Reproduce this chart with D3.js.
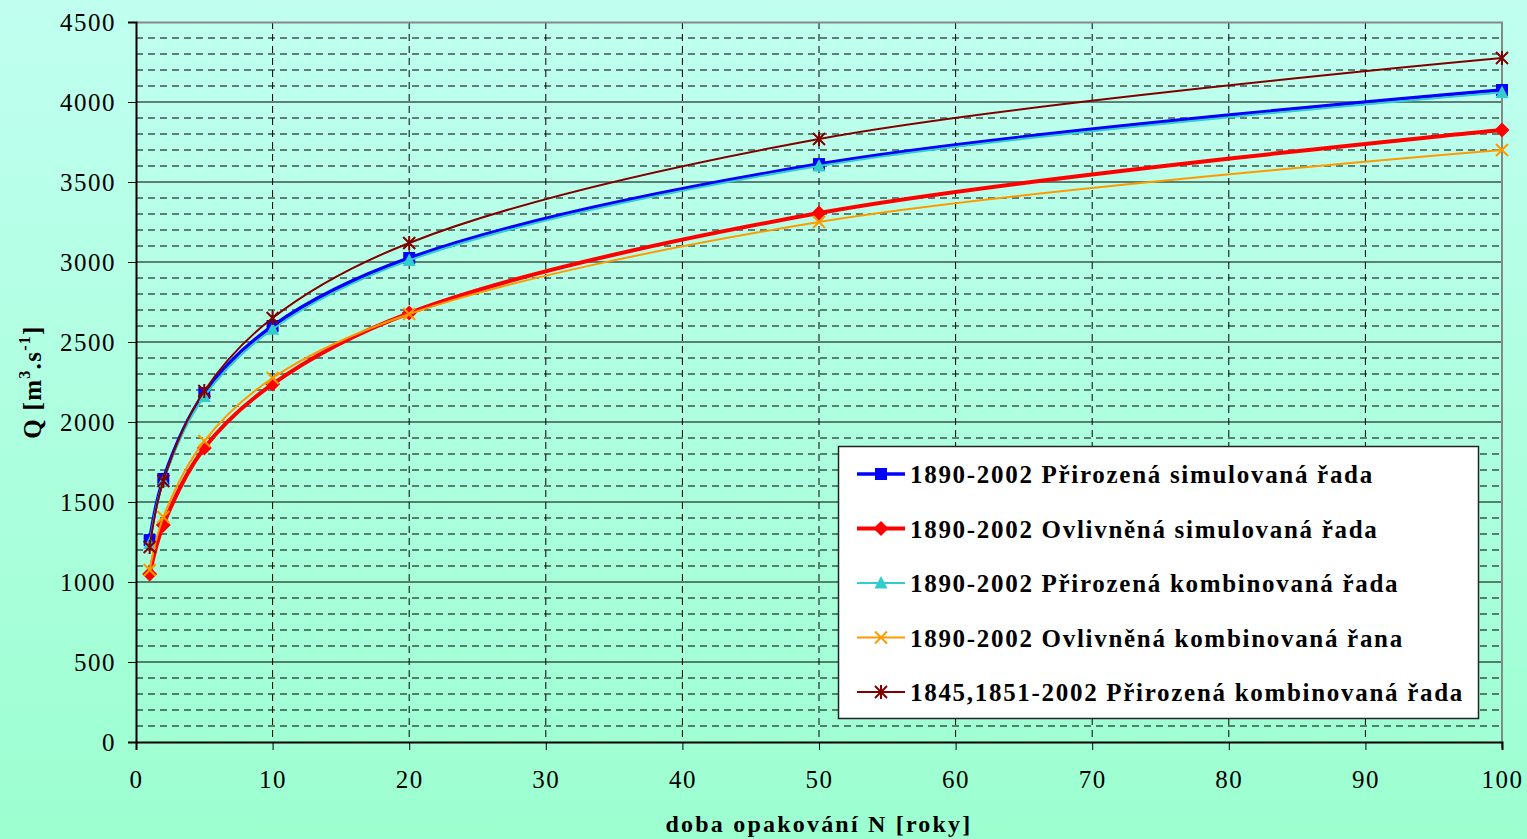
<!DOCTYPE html>
<html>
<head>
<meta charset="utf-8">
<script src="https://cdn.jsdelivr.net/npm/d3@7"></script>
<style>
  body { margin: 0; padding: 0; overflow: hidden; }
  svg { display: block; font-family: "Liberation Serif", "Times New Roman", serif; }
</style>
</head>
<body>
<div id="chart"></div>
<script>
// return periods N [years]
const periods = [1, 2, 5, 10, 20, 50, 100] ;

const prirozenaSim  = [1262, 1644, 2181, 2600, 3025, 3612, 4075] ;
const ovlivnenaSim  = [1050, 1356, 1837, 2237, 2681, 3306, 3825] ;
const prirozenaKomb = [1240, 1630, 2160, 2580, 3010, 3600, 4060] ;
const ovlivnenaKomb = [1075, 1406, 1881, 2275, 2675, 3250, 3700] ;
const prirozena1845 = [1219, 1631, 2194, 2650, 3119, 3769, 4275] ;

const xTicks = [0, 10, 20, 30, 40, 50, 60, 70, 80, 90, 100] ;
const yTicks = [0, 500, 1000, 1500, 2000, 2500, 3000, 3500, 4000, 4500] ;

const seriesList = [
  {name: "1890-2002 Přirozená simulovaná řada",       values: prirozenaSim,  color: "#0000ff", width: 3.5, marker: "square"},
  {name: "1890-2002 Ovlivněná simulovaná řada",       values: ovlivnenaSim,  color: "#ff0000", width: 4,   marker: "diamond"},
  {name: "1890-2002 Přirozená kombinovaná řada",      values: prirozenaKomb, color: "#33cccc", width: 2,   marker: "triangle"},
  {name: "1890-2002 Ovlivněná kombinovaná řana",      values: ovlivnenaKomb, color: "#ff9900", width: 2,   marker: "cross"},
  {name: "1845,1851-2002 Přirozená kombinovaná řada", values: prirozena1845, color: "#800000", width: 2,   marker: "asterisk"}
] ;

let dimensions = {
  width: 1527,
  height: 839,
  margin: {top: 22, right: 25, bottom: 97, left: 136}
}
dimensions.boundedWidth = dimensions.width - dimensions.margin.left - dimensions.margin.right
dimensions.boundedHeight = dimensions.height - dimensions.margin.top - dimensions.margin.bottom

const svg = d3.select("#chart").append("svg")
    .attr("width", dimensions.width)
    .attr("height", dimensions.height) ;

const defs = svg.append("defs") ;
const grad = defs.append("linearGradient")
    .attr("id", "bg").attr("x1", 0).attr("y1", 0).attr("x2", 0).attr("y2", 1) ;
grad.append("stop").attr("offset", "0%").attr("stop-color", "#c0fff0") ;
grad.append("stop").attr("offset", "100%").attr("stop-color", "#9cffd0") ;

svg.append("rect")
    .attr("width", dimensions.width).attr("height", dimensions.height)
    .attr("fill", "url(#bg)") ;

const bounds = svg.append("g")
    .attr("transform", `translate(${dimensions.margin.left},${dimensions.margin.top})`) ;

const xScale = d3.scaleLinear()
  .domain([0, 100])
  .range([0, dimensions.boundedWidth]) ;

const yScale = d3.scaleLinear()
  .domain([0, 4500])
  .range([dimensions.boundedHeight, 0]) ;

// minor dashed horizontal grid every 100
const minorY = d3.range(100, 4500, 100).filter(v => v % 500 != 0) ;
bounds.append("g").selectAll("line")
  .data(minorY)
  .enter().append("line")
    .attr("x1", 0).attr("x2", dimensions.boundedWidth)
    .attr("y1", d => yScale(d)).attr("y2", d => yScale(d))
    .attr("stroke", "#000").attr("stroke-width", 1)
    .attr("stroke-dasharray", "7,5") ;

// dashed vertical grid
bounds.append("g").selectAll("line")
  .data(xTicks.filter(v => v > 0 && v < 100))
  .enter().append("line")
    .attr("x1", d => xScale(d)).attr("x2", d => xScale(d))
    .attr("y1", 0).attr("y2", dimensions.boundedHeight)
    .attr("stroke", "#000").attr("stroke-width", 1)
    .attr("stroke-dasharray", "7,5") ;

// solid major horizontal grid
bounds.append("g").selectAll("line")
  .data(yTicks.filter(v => v > 0 && v < 4500))
  .enter().append("line")
    .attr("x1", 0).attr("x2", dimensions.boundedWidth)
    .attr("y1", d => yScale(d)).attr("y2", d => yScale(d))
    .attr("stroke", "#000").attr("stroke-width", 1) ;

// top and right border (grey)
bounds.append("path")
    .attr("d", `M0,0.5H${dimensions.boundedWidth}V${dimensions.boundedHeight + 6}`)
    .attr("fill", "none").attr("stroke", "#888").attr("stroke-width", 2) ;

// axes
const xAxisGenerator = d3.axisBottom(xScale)
    .tickValues(xTicks)
    .tickSize(8)
    .tickPadding(20)
    .tickFormat(d3.format("d")) ;
const xAxis = bounds.append("g")
    .attr("transform", `translate(0,${dimensions.boundedHeight})`)
    .call(xAxisGenerator) ;

const yAxisGenerator = d3.axisLeft(yScale)
    .tickValues(yTicks)
    .tickSize(8)
    .tickPadding(12)
    .tickFormat(d3.format("d")) ;
const yAxis = bounds.append("g").call(yAxisGenerator) ;

[xAxis, yAxis].forEach(ax => {
  ax.select(".domain").attr("stroke", "#000").attr("stroke-width", 2) ;
  ax.selectAll(".tick line").attr("stroke", "#000").attr("stroke-width", 1) ;
  ax.selectAll(".tick text")
    .attr("font-family", "Liberation Serif, serif")
    .attr("font-size", 25)
    .attr("letter-spacing", 1.5)
    .attr("fill", "#000") ;
}) ;
yAxis.selectAll(".tick text").attr("dy", "0.35em") ;

// axis titles
svg.append("text")
    .attr("x", dimensions.margin.left + dimensions.boundedWidth / 2)
    .attr("y", 832)
    .attr("text-anchor", "middle")
    .attr("font-size", 24).attr("font-weight", "bold")
    .attr("letter-spacing", 2.2)
    .text("doba opakování N [roky]") ;

const yTitle = svg.append("text")
    .attr("transform", `translate(41,${dimensions.margin.top + dimensions.boundedHeight / 2}) rotate(-90)`)
    .attr("text-anchor", "middle")
    .attr("font-size", 25).attr("font-weight", "bold")
    .attr("letter-spacing", 1.3) ;
yTitle.append("tspan").text("Q [m") ;
yTitle.append("tspan").attr("font-size", 16).attr("dy", -11).text("3") ;
yTitle.append("tspan").attr("dy", 11).text(".s") ;
yTitle.append("tspan").attr("font-size", 16).attr("dy", -11).text("-1") ;
yTitle.append("tspan").attr("dy", 11).text("]") ;

// markers
function drawMarker(g, type, color, cx, cy) {
  if (type == "square") {
    g.append("rect").attr("x", cx - 6).attr("y", cy - 6).attr("width", 12).attr("height", 12).attr("fill", color) ;
  } else if (type == "diamond") {
    g.append("path").attr("d", `M${cx},${cy - 7.5}L${cx + 7.5},${cy}L${cx},${cy + 7.5}L${cx - 7.5},${cy}Z`).attr("fill", color) ;
  } else if (type == "triangle") {
    g.append("path").attr("d", `M${cx},${cy - 7}L${cx + 6.5},${cy + 5.5}L${cx - 6.5},${cy + 5.5}Z`).attr("fill", color) ;
  } else if (type == "cross") {
    g.append("path").attr("d", `M${cx - 6},${cy - 6}L${cx + 6},${cy + 6}M${cx + 6},${cy - 6}L${cx - 6},${cy + 6}`)
      .attr("stroke", color).attr("stroke-width", 2).attr("fill", "none") ;
  } else if (type == "asterisk") {
    g.append("path").attr("d", `M${cx - 6},${cy - 6}L${cx + 6},${cy + 6}M${cx + 6},${cy - 6}L${cx - 6},${cy + 6}M${cx},${cy - 7}L${cx},${cy + 7}`)
      .attr("stroke", color).attr("stroke-width", 2).attr("fill", "none") ;
  }
}

const line = d3.line()
    .x(d => xScale(d[0]))
    .y(d => yScale(d[1]))
    .curve(d3.curveCatmullRom.alpha(0.5)) ;

seriesList.forEach(s => {
  const pts = periods.map((p, i) => [p, s.values[i]]) ;
  const g = bounds.append("g") ;
  g.append("path")
    .attr("d", line(pts))
    .attr("fill", "none")
    .attr("stroke", s.color)
    .attr("stroke-width", s.width) ;
  pts.forEach(p => drawMarker(g, s.marker, s.color, xScale(p[0]), yScale(p[1]))) ;
}) ;

// legend
const legend = svg.append("g").attr("transform", "translate(838,446)") ;
legend.append("rect")
    .attr("x", 0.5).attr("y", 0.5).attr("width", 640).attr("height", 272)
    .attr("fill", "#fff").attr("stroke", "#222").attr("stroke-width", 1.5) ;
seriesList.forEach((s, i) => {
  const cy = 28 + i * 54.5 ;
  const g = legend.append("g") ;
  g.append("line")
    .attr("x1", 19).attr("x2", 67).attr("y1", cy).attr("y2", cy)
    .attr("stroke", s.color).attr("stroke-width", s.width) ;
  drawMarker(g, s.marker, s.color, 43, cy) ;
  g.append("text")
    .attr("x", 72).attr("y", cy + 9)
    .attr("font-size", 25).attr("font-weight", "bold")
    .attr("letter-spacing", 1.7)
    .text(s.name) ;
}) ;
</script>
</body>
</html>
